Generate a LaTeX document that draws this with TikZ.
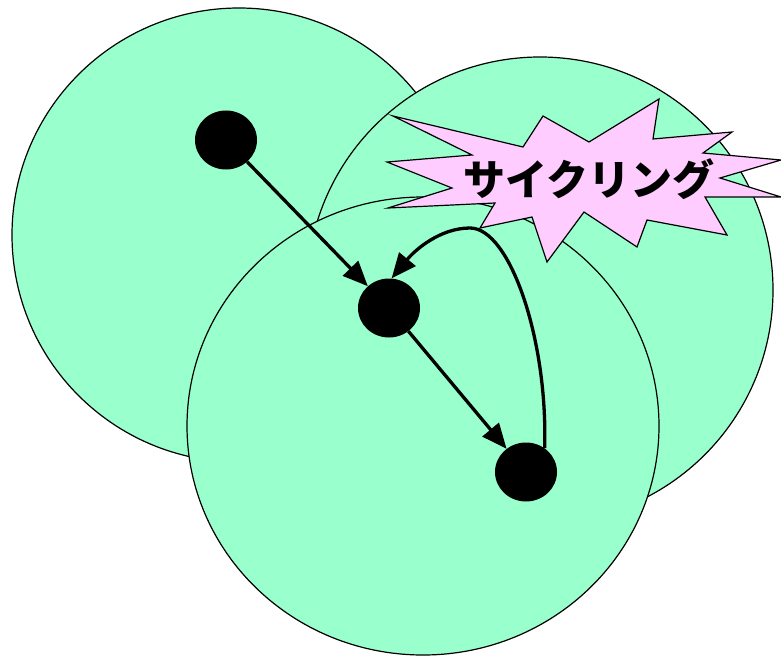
\documentclass[tikz,border=0pt]{standalone}
\usepackage{fontspec}
\newfontfamily\cjk{Noto Sans CJK JP}
\usetikzlibrary{arrows.meta}
\definecolor{zone}{RGB}{153,255,204}
\definecolor{burst}{RGB}{255,204,255}
\tikzset{
  zonecircle/.style={draw=black, line width=1.2pt, fill=zone},
  dot/.style={ellipse, fill=black, minimum width=62pt, minimum height=59pt, inner sep=0pt},
  flow/.style={line width=3.3pt, -{Triangle[length=25pt,width=21pt]}},
}
\usetikzlibrary{shapes.geometric}
\begin{document}
\begin{tikzpicture}[x=1pt,y=-1pt]
\useasboundingbox (0,0) rectangle (781,658);
% zones
\draw[zonecircle] (239,235) circle[radius=227];
\draw[zonecircle] (540,290) circle[radius=233];
\draw[zonecircle] (423,426) ellipse[x radius=236, y radius=229];
% burst
\draw[line width=1.2pt, fill=burst, line join=miter]
  (393,116) -- (523,147) -- (543,116) -- (589,142) -- (659,99) -- (653,139)
  -- (732,132) -- (703,153) -- (781,160) -- (720,178) -- (781,197) -- (705,197)
  -- (727,235) -- (647,220) -- (637,247) -- (584,212) -- (547,262) -- (532,217)
  -- (480,228) -- (495,203) -- (388,208) -- (452,188) -- (387,162) -- (472,155) -- cycle;
\node[font=\cjk\bfseries\fontsize{42}{42}\selectfont, inner sep=0pt] (label) at (589,179) {サイクリング};
% nodes
\node[dot] (n1) at (226,140) {};
\node[dot] (n2) at (389,308) {};
\node[dot] (n3) at (526,472) {};
\draw[flow] (n1) -- (n2);
\draw[flow] (n2) -- (n3);
\draw[flow] (n3.52) .. controls (548,340) and (510,228) .. (470,228) .. controls (440,228) and (415,250) .. (n2.85);
\end{tikzpicture}
\end{document}
